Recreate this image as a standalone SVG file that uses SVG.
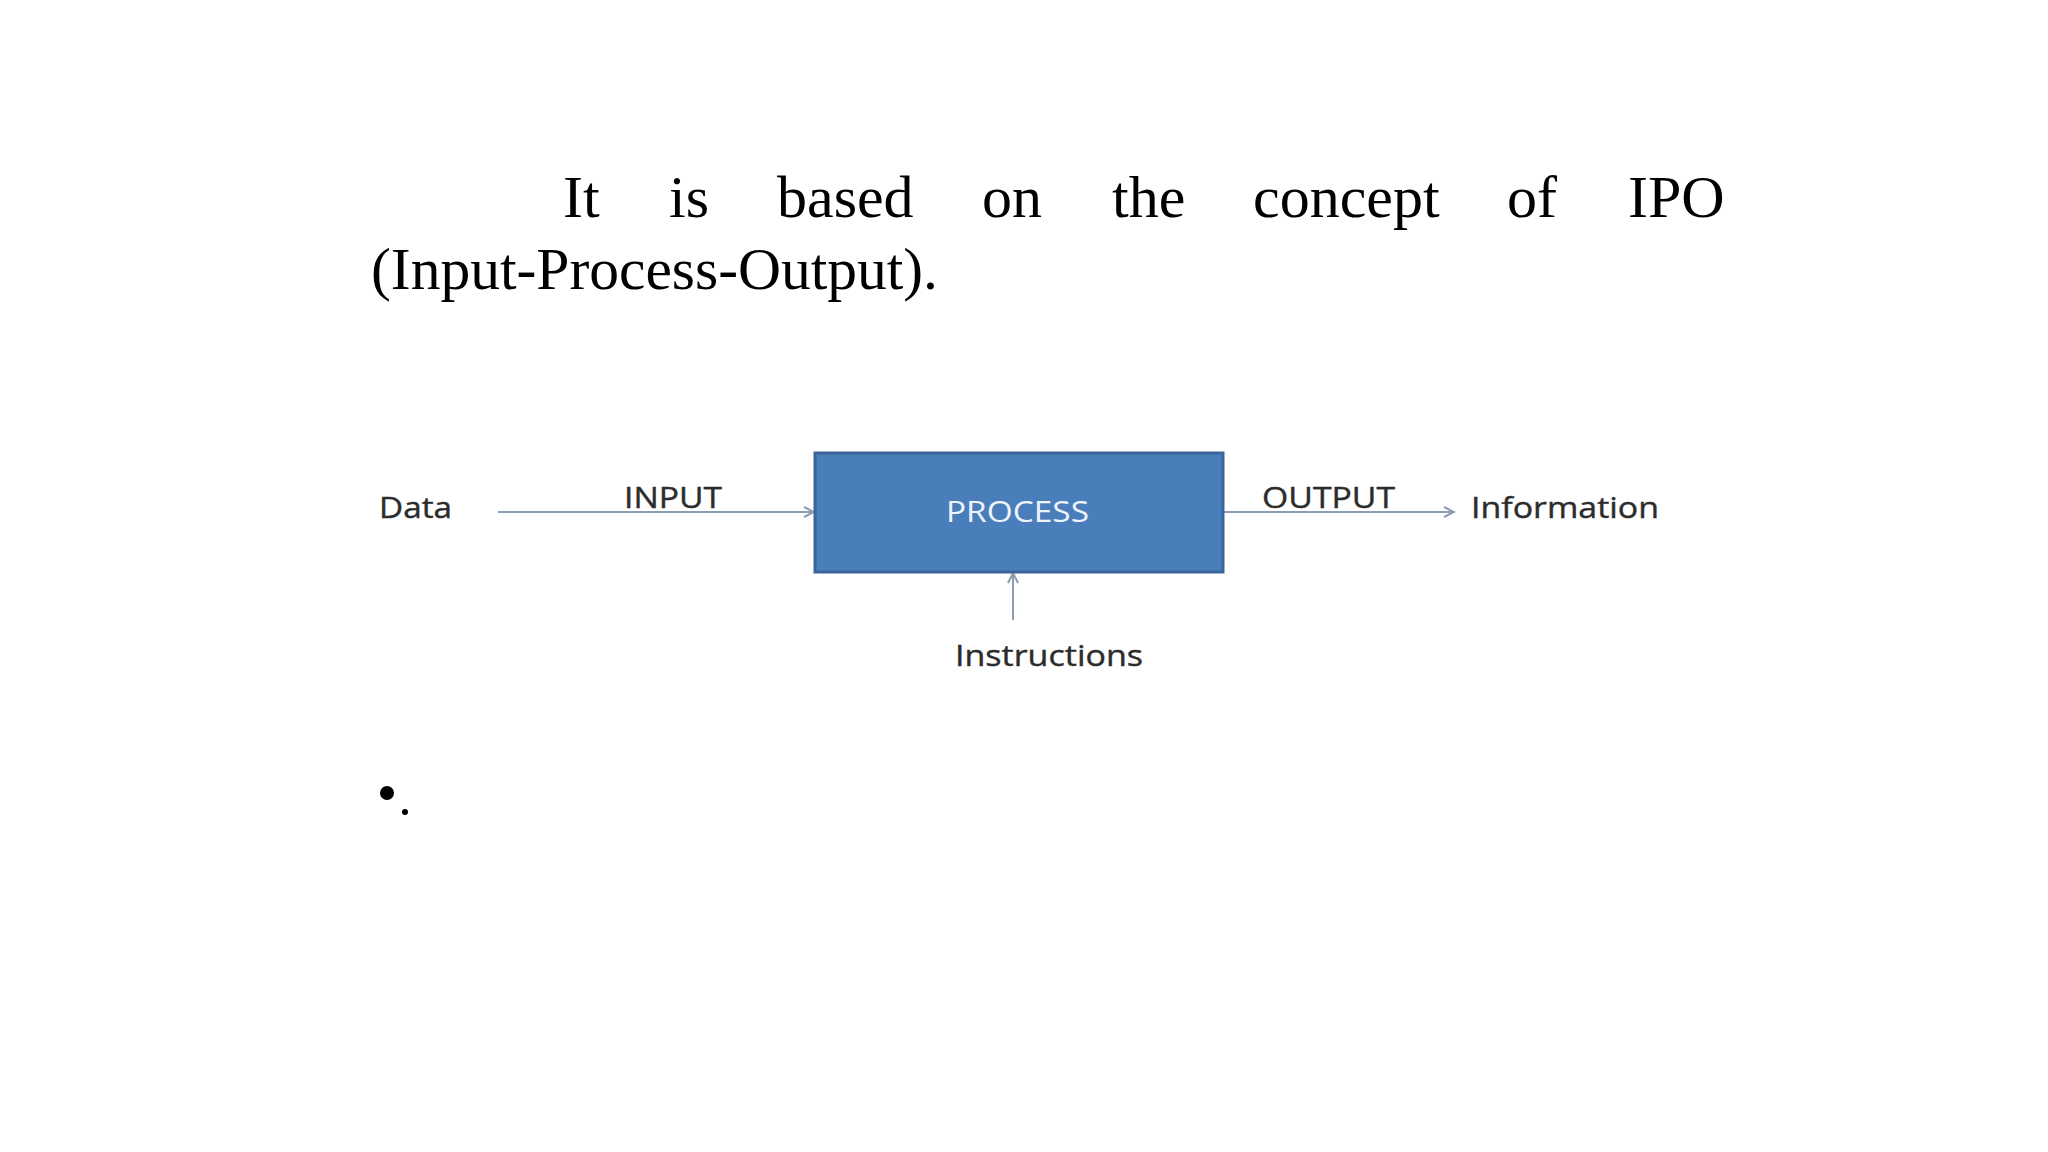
<svg xmlns="http://www.w3.org/2000/svg" width="2048" height="1152" viewBox="0 0 2048 1152">
<defs>
<style>
.title{font-family:"Liberation Serif","Times New Roman",serif;font-size:60px;fill:#000}
.lbl{font-family:"Open Sans","Noto Sans",sans-serif;font-size:29px;fill:#2c2c2c;stroke:#2c2c2c;stroke-width:0.4}
.proc{font-family:"Open Sans","Noto Sans",sans-serif;font-size:29px;fill:#eef4fb}
.conn{stroke:#8c9db4;stroke-width:2;fill:none}
</style>
<marker id="arr" markerWidth="14" markerHeight="14" refX="12" refY="7" orient="auto" markerUnits="userSpaceOnUse">
<path d="M2,2 L12,7 L2,12" fill="none" stroke="#8c9db4" stroke-width="2"/>
</marker>
</defs>
<rect width="2048" height="1152" fill="#ffffff"/>
<g id="title">
<text class="title" x="563" y="217">It</text>
<text class="title" x="669" y="217">is</text>
<text class="title" x="777" y="217">based</text>
<text class="title" x="982" y="217">on</text>
<text class="title" x="1112" y="217">the</text>
<text class="title" x="1253" y="217">concept</text>
<text class="title" x="1507" y="217">of</text>
<text class="title" x="1628" y="217">IPO</text>
<text class="title" x="371" y="289" textLength="567" lengthAdjust="spacingAndGlyphs">(Input-Process-Output).</text>
</g>
<g id="connectors">
<line class="conn" x1="498" y1="512" x2="814" y2="512" marker-end="url(#arr)"/>
<line class="conn" x1="1224" y1="512" x2="1454" y2="512" marker-end="url(#arr)"/>
<line class="conn" x1="1013" y1="620" x2="1013" y2="573" marker-end="url(#arr)"/>
</g>
<g id="process">
<rect x="815" y="453" width="408" height="119" fill="#4a7ebb" stroke="#3b649a" stroke-width="3"/>
<text class="proc" x="946" y="522" textLength="143" lengthAdjust="spacingAndGlyphs">PROCESS</text>
</g>
<g id="data"><text class="lbl" x="379" y="518" textLength="73" lengthAdjust="spacingAndGlyphs">Data</text></g>
<g id="input-label"><text class="lbl" x="624" y="508" textLength="98" lengthAdjust="spacingAndGlyphs">INPUT</text></g>
<g id="output-label"><text class="lbl" x="1262" y="508" textLength="133" lengthAdjust="spacingAndGlyphs">OUTPUT</text></g>
<g id="information"><text class="lbl" x="1471" y="518" textLength="188" lengthAdjust="spacingAndGlyphs">Information</text></g>
<g id="instructions"><text class="lbl" x="955" y="666" textLength="188" lengthAdjust="spacingAndGlyphs">Instructions</text></g>
<g id="bullet">
<circle cx="387" cy="793" r="7" fill="#000"/>
<circle cx="405" cy="812" r="3" fill="#000"/>
</g>
</svg>
